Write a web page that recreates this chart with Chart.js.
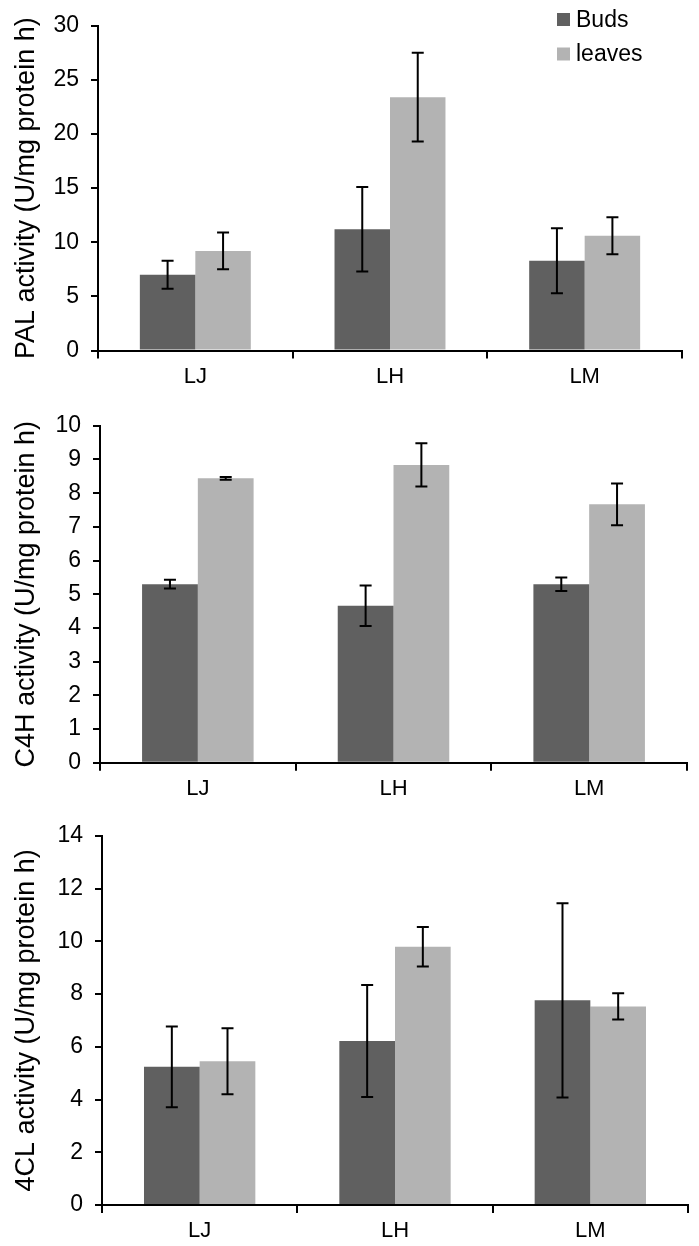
<!DOCTYPE html>
<html>
<head>
<meta charset="utf-8">
<title>PAL, C4H and 4CL activity</title>
<script src="https://cdn.jsdelivr.net/npm/chart.js@4.4.1/dist/chart.umd.min.js"></script>
<style>
  body { margin:0; background:#fff; }
  .box { position:absolute; left:0; width:699px; }
</style>
</head>
<body>
<div class="box" style="top:0;height:400px"><canvas id="palChart"></canvas></div>
<div class="box" style="top:400px;height:410px"><canvas id="c4hChart"></canvas></div>
<div class="box" style="top:810px;height:436px"><canvas id="fclChart"></canvas></div>
<script>
var categories = ['LJ', 'LH', 'LM'];
var seriesNames = ['Buds', 'leaves'];

var palBuds = [7.0, 11.2, 8.3];
var palBudsErr = [1.3, 3.9, 3.0];
var palLeaves = [9.2, 23.4, 10.6];
var palLeavesErr = [1.7, 4.1, 1.7];

var c4hBuds = [5.3, 4.66, 5.3];
var c4hBudsErr = [0.13, 0.6, 0.2];
var c4hLeaves = [8.44, 8.84, 7.67];
var c4hLeavesErr = [0.04, 0.64, 0.62];

var fclBuds = [5.24, 6.22, 7.76];
var fclBudsErr = [1.53, 2.12, 3.68];
var fclLeaves = [5.45, 9.79, 7.53];
var fclLeavesErr = [1.25, 0.75, 0.5];

var budsColor = '#606060';
var leavesColor = '#b3b3b3';

Chart.defaults.font.family = "'Liberation Sans', Arial, sans-serif";
Chart.defaults.color = '#000';

// error bars drawn from dataset.errors through the y scale
var errorBars = {
  id: 'errorBars',
  afterDatasetsDraw: function(chart) {
    var ctx = chart.ctx;
    var yScale = chart.scales.y;
    ctx.save();
    ctx.strokeStyle = '#000';
    ctx.lineWidth = 2;
    chart.data.datasets.forEach(function(ds, i) {
      var meta = chart.getDatasetMeta(i);
      meta.data.forEach(function(bar, j) {
        var v = ds.data[j], e = ds.errors[j];
        var top = yScale.getPixelForValue(v + e);
        var bot = yScale.getPixelForValue(v - e);
        ctx.beginPath();
        ctx.moveTo(bar.x, top); ctx.lineTo(bar.x, bot);
        ctx.moveTo(bar.x - 6, top); ctx.lineTo(bar.x + 6, top);
        ctx.moveTo(bar.x - 6, bot); ctx.lineTo(bar.x + 6, bot);
        ctx.stroke();
      });
    });
    ctx.restore();
  }
};

// vertical legend in the top right corner
var cornerLegend = {
  id: 'cornerLegend',
  afterDraw: function(chart) {
    if (!chart.options.plugins.cornerLegend.show) return;
    var ctx = chart.ctx;
    ctx.save();
    ctx.font = "23px 'Liberation Sans', Arial, sans-serif";
    ctx.textBaseline = 'middle';
    chart.data.datasets.forEach(function(ds, i) {
      var y = 19.5 + i * 34.5;
      ctx.fillStyle = ds.backgroundColor;
      ctx.fillRect(557, y - 6.5, 13, 13);
      ctx.fillStyle = '#000';
      ctx.fillText(ds.label, 576, y + 1);
    });
    ctx.restore();
  }
};

function makeChart(id, title, buds, budsErr, leaves, leavesErr, max, step, geo, legend) {
  return new Chart(document.getElementById(id), {
    type: 'bar',
    data: {
      labels: categories,
      datasets: [
        { label: seriesNames[0], data: buds, errors: budsErr, backgroundColor: budsColor },
        { label: seriesNames[1], data: leaves, errors: leavesErr, backgroundColor: leavesColor }
      ]
    },
    options: {
      responsive: true,
      maintainAspectRatio: false,
      animation: false,
      layout: { padding: { top: geo.top, right: geo.right, left: 0, bottom: 0 } },
      datasets: { bar: { categoryPercentage: 0.57, barPercentage: 1.0 } },
      plugins: {
        legend: { display: false },
        tooltip: { enabled: false },
        cornerLegend: { show: legend }
      },
      scales: {
        x: {
          offset: true,
          grid: { offset: true, drawOnChartArea: false, drawTicks: true, tickLength: 8, color: '#000', lineWidth: 2 },
          border: { display: true, color: '#000', width: 2 },
          ticks: { font: { size: 22 }, padding: 5 },
          afterFit: function(s) { s.height = geo.xh; }
        },
        y: {
          min: 0,
          max: max,
          grid: { drawOnChartArea: false, drawTicks: true, tickLength: 7, color: '#000', lineWidth: 2 },
          border: { display: true, color: '#000', width: 2 },
          ticks: { stepSize: step, font: { size: 23 }, padding: 12 },
          title: { display: true, text: title, font: { size: 27 }, padding: { top: 10, bottom: 0 } },
          afterFit: function(s) { s.width = geo.yw; }
        }
      }
    },
    plugins: [errorBars, cornerLegend]
  });
}

makeChart('palChart', 'PAL activity (U/mg protein h)', palBuds, palBudsErr, palLeaves, palLeavesErr,
  30, 5, { top: 15, right: 17, xh: 49.5, yw: 98 }, true);
makeChart('c4hChart', 'C4H activity (U/mg protein h)', c4hBuds, c4hBudsErr, c4hLeaves, c4hLeavesErr,
  10, 1, { top: 21.7, right: 12, xh: 47.3, yw: 100 }, false);
makeChart('fclChart', '4CL activity (U/mg protein h)', fclBuds, fclBudsErr, fclLeaves, fclLeavesErr,
  14, 2, { top: 25, right: 11, xh: 41, yw: 102 }, false);
</script>
</body>
</html>
